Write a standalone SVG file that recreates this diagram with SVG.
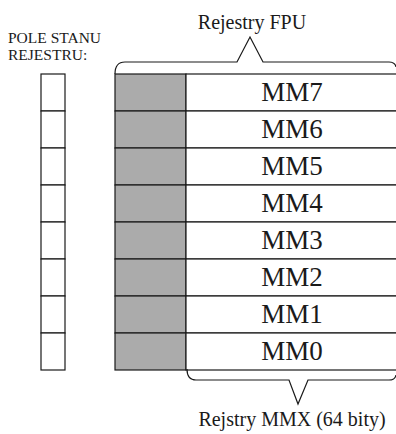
<svg xmlns="http://www.w3.org/2000/svg" width="396" height="434" viewBox="0 0 396 434">
<style>
.t{font-family:"Liberation Serif","Times New Roman",serif;fill:#1a1a1a}
.cell{fill:#fff;stroke:#1a1a1a;stroke-width:1.2}
.g{fill:#ababab;stroke:#1a1a1a;stroke-width:1.2}
.reg{fill:#fff;stroke:#1a1a1a;stroke-width:1.2}
.br{fill:none;stroke:#1a1a1a;stroke-width:1.2}
.mm{font-size:27px;text-anchor:middle}
</style>
<rect width="396" height="434" fill="#fff"/>
<text class="t" x="8" y="42.5" font-size="15.5"><tspan x="8" y="42.5">POLE STANU</tspan><tspan x="8" y="60">REJESTRU:</tspan></text>
<text class="t" x="252" y="29" font-size="20" text-anchor="middle">Rejestry FPU</text>
<text class="t" x="292" y="426" font-size="20" text-anchor="middle">Rejstry MMX (64 bity)</text>
<g id="status">
<rect class="cell" x="41" y="74" width="24" height="37"/>
<rect class="cell" x="41" y="111" width="24" height="37"/>
<rect class="cell" x="41" y="148" width="24" height="37"/>
<rect class="cell" x="41" y="185" width="24" height="37"/>
<rect class="cell" x="41" y="222" width="24" height="37"/>
<rect class="cell" x="41" y="259" width="24" height="37"/>
<rect class="cell" x="41" y="296" width="24" height="37"/>
<rect class="cell" x="41" y="333" width="24" height="37"/>
</g>
<g id="mm7"><rect class="g" x="115" y="74" width="71" height="37"/><rect class="reg" x="186" y="74" width="212" height="37"/><text class="t mm" x="292" y="101">MM7</text></g>
<g id="mm6"><rect class="g" x="115" y="111" width="71" height="37"/><rect class="reg" x="186" y="111" width="212" height="37"/><text class="t mm" x="292" y="138">MM6</text></g>
<g id="mm5"><rect class="g" x="115" y="148" width="71" height="37"/><rect class="reg" x="186" y="148" width="212" height="37"/><text class="t mm" x="292" y="175">MM5</text></g>
<g id="mm4"><rect class="g" x="115" y="185" width="71" height="37"/><rect class="reg" x="186" y="185" width="212" height="37"/><text class="t mm" x="292" y="212">MM4</text></g>
<g id="mm3"><rect class="g" x="115" y="222" width="71" height="37"/><rect class="reg" x="186" y="222" width="212" height="37"/><text class="t mm" x="292" y="249">MM3</text></g>
<g id="mm2"><rect class="g" x="115" y="259" width="71" height="37"/><rect class="reg" x="186" y="259" width="212" height="37"/><text class="t mm" x="292" y="286">MM2</text></g>
<g id="mm1"><rect class="g" x="115" y="296" width="71" height="37"/><rect class="reg" x="186" y="296" width="212" height="37"/><text class="t mm" x="292" y="323">MM1</text></g>
<g id="mm0"><rect class="g" x="115" y="333" width="71" height="37"/><rect class="reg" x="186" y="333" width="212" height="37"/><text class="t mm" x="292" y="360">MM0</text></g>
<g id="braces">
<path class="br" d="M115,74 Q115,62 125,62 L237,62 L250,37 L263,62 L389,62 Q395,62 396,67"/>
<path class="br" d="M187,369 Q187,380 196,380 L289,380 L298,404 L308,380 L389,380 Q395,380 396,375"/>
</g>
</svg>
